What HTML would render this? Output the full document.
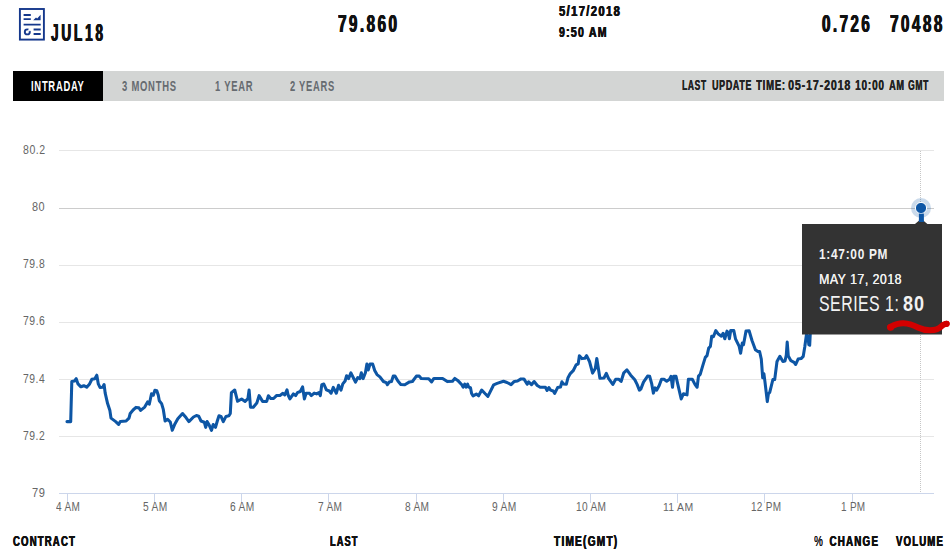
<!DOCTYPE html>
<html><head><meta charset="utf-8"><title>JUL18</title>
<style>
html,body{margin:0;padding:0;background:#fff;}
body{width:952px;height:560px;position:relative;overflow:hidden;font-family:"Liberation Sans",sans-serif;}
.t{position:absolute;white-space:pre;line-height:1;transform-origin:0 0;font-family:"Liberation Sans",sans-serif;}
.bar{position:absolute;left:13px;top:71px;width:931px;height:29.5px;background:#d3d5d4;}
.tab{position:absolute;left:13px;top:71px;width:90px;height:29.5px;background:#000;}
svg{position:absolute;left:0;top:0;}
</style></head><body>
<div class="bar"></div><div class="tab"></div>
<svg width="952" height="560" viewBox="0 0 952 560">
<!-- icon -->
<g fill="none" stroke="#15388c">
<rect x="19.9" y="9" width="24" height="30.6" stroke-width="1.9"/>
<path d="M23.6 15H30.8 M23.6 19.2H30.8 M23.6 24.7H40.7 M33.6 29.5H40.7 M33.6 34H40.7" stroke-width="1.8"/>
<circle cx="27.3" cy="31.9" r="2.5" stroke-width="1.9"/>
</g>
<path d="M33.2 20.2L36 17.6L37.2 18.6L40.6 14.8V20.2Z" fill="#15388c"/>
<path d="M27.9 31.2L29.6 27.8L31.6 30.2Z" fill="#fff" stroke="#fff" stroke-width="0.6"/>
<!-- grid -->
<path d="M59 150.5H934" stroke="#e6e6e6" stroke-width="1"/><path d="M59 265.5H934" stroke="#e6e6e6" stroke-width="1"/><path d="M59 322.5H934" stroke="#e6e6e6" stroke-width="1"/><path d="M59 379.5H934" stroke="#e6e6e6" stroke-width="1"/><path d="M59 436.5H934" stroke="#e6e6e6" stroke-width="1"/>
<path d="M59 208.5H934" stroke="#cccccc" stroke-width="1"/>
<path d="M59 493.5H934" stroke="#ccd6eb" stroke-width="1"/>
<path d="M67.5 493.5V503" stroke="#ccd6eb" stroke-width="1"/><path d="M154.5 493.5V503" stroke="#ccd6eb" stroke-width="1"/><path d="M241.5 493.5V503" stroke="#ccd6eb" stroke-width="1"/><path d="M328.5 493.5V503" stroke="#ccd6eb" stroke-width="1"/><path d="M416.5 493.5V503" stroke="#ccd6eb" stroke-width="1"/><path d="M503.5 493.5V503" stroke="#ccd6eb" stroke-width="1"/><path d="M590.5 493.5V503" stroke="#ccd6eb" stroke-width="1"/><path d="M677.5 493.5V503" stroke="#ccd6eb" stroke-width="1"/><path d="M764.5 493.5V503" stroke="#ccd6eb" stroke-width="1"/><path d="M852.5 493.5V503" stroke="#ccd6eb" stroke-width="1"/>
<path d="M920.5 151V493" stroke="#c6c6c6" stroke-width="1" stroke-dasharray="1 1" shape-rendering="crispEdges"/>
<!-- series -->
<path d="M66.96,421.6 L70.7,421.6 L71.8,381.6 L74.5,381 L76.2,378.7 L78,383.9 L80.9,386.8 L83.8,385.7 L86.7,387.2 L89.6,383.9 L91.9,379.3 L94.8,378.7 L96.8,375.2 L98.3,383.9 L100,387.4 L102.7,387.2 L104.1,384.5 L105.2,393.2 L107.6,403.6 L109.9,410.6 L111,418.1 L115.7,421.6 L118.6,424.5 L120.3,421.6 L126.1,421 L129,418.1 L130.2,413.5 L133.1,410 L136,407.4 L138.9,407.7 L140.6,410.4 L144.7,407.1 L147.6,401.9 L149.3,404.2 L151.5,393.8 L153.3,395.2 L154.9,390.3 L156.8,390.7 L158.3,395.2 L159.3,400.7 L161.6,403.6 L163.3,409.4 L165.1,421 L167.6,419.3 L170.3,422 L172.3,430.3 L174.9,423.9 L177.8,418.7 L182.5,413.5 L186,417.6 L188.9,421.6 L193.5,417 L196.4,415.5 L198.7,416.2 L201,421 L204.3,422.2 L205.7,427.4 L207.1,421.6 L209.2,425.1 L211.5,430.3 L213.2,424.5 L215.5,427.4 L217.3,421 L219,415.8 L221,416.4 L223.3,421.6 L226,416.4 L228.9,415.8 L230.3,413.5 L231.4,392.6 L234.7,390 L237.6,401.3 L241.6,399 L245.1,401.5 L247.9,398.7 L249.1,390 L250.5,407.2 L253.3,407.2 L256.8,403.1 L259.1,395.6 L262.6,401.4 L266.7,401.4 L268.4,395.8 L270.7,398.5 L273.6,398.5 L276.5,395.6 L280,395.4 L282.9,393.3 L284.7,395 L287,389.8 L288.1,395 L289.9,398.9 L293.4,393.9 L295.7,395.6 L297.4,392.7 L300.3,391.5 L302.6,386.9 L304.4,398.9 L306.1,393.3 L309.6,393.3 L311.3,395.6 L314.2,393.1 L316.6,393.9 L318.9,392.7 L320.3,395.6 L321.8,384.6 L323.8,384 L326.4,389.8 L329.3,391 L331.1,393.2 L333.3,387.4 L336.3,393.2 L338.6,385.3 L341,390.2 L342.8,383.9 L345.1,381 L346.6,375.7 L348.6,378.6 L350.9,372.8 L353.2,377.5 L355.5,382.1 L357.8,377.5 L359.9,378.6 L361.3,372.8 L363.1,378.6 L365.4,372.8 L366.9,364.1 L368.3,369.9 L370,364.1 L372.7,364.1 L374.7,370.5 L377,374.6 L379.9,376.9 L383.4,381.5 L386.3,382.7 L387.4,384.7 L389.2,382.1 L391.5,381.5 L393.2,376.1 L395,376.1 L397.9,381 L400.8,384.4 L404.8,384.7 L409.5,381.9 L412.4,381.5 L416.4,376.1 L419.3,376.1 L421.2,378.5 L428.7,378.8 L431.6,381.9 L433.9,378.4 L442.6,378.4 L447.3,381.6 L452.5,381.3 L454.8,378.4 L457.7,380.4 L461.8,384.8 L463.2,387.1 L464.7,384.2 L466.1,387.1 L467.6,384.2 L468.7,387.1 L470.5,387.7 L471.6,393.5 L473.1,395.8 L476.3,394.1 L478.6,395.8 L481.7,390 L485,393.5 L487.9,396.4 L493.7,384.8 L497.1,383.4 L503.5,381.3 L507,382.5 L511.1,384.6 L514.3,381.4 L517.5,381 L521,378.9 L523.9,378.9 L527.2,384.3 L528.6,381.8 L531.5,384.7 L534.1,381.5 L537.3,385.5 L540.2,387.3 L545.4,387.3 L547.1,390.5 L548.9,387.6 L550.6,390.1 L553.2,391 L554.7,393.4 L557.6,387.6 L560.5,387 L561.9,381.8 L563.6,384.1 L566.3,384.3 L568,377.7 L570.3,373.6 L573.2,370.7 L576.1,364.9 L578.2,363.8 L579.4,355.7 L581.9,358.6 L584.8,358.3 L586.6,355.7 L589.5,361.5 L592.6,373.1 L595.3,368.4 L596.8,358.6 L599.9,378.3 L604,378 L606.3,373.3 L608.5,378.3 L612.8,384.4 L615.7,379.2 L618.6,379.2 L621.1,381.5 L623.8,372.8 L626.9,369.9 L630.7,375.2 L634.8,379.8 L637.1,384.4 L639.4,390.2 L640.8,389.1 L643.5,382.1 L647.6,376.1 L649.7,376.3 L651.6,383.3 L653.4,393.1 L655.1,387.9 L656.6,390.2 L659.2,385.6 L661.5,379.2 L664,379.2 L666.7,381.2 L669.6,379.2 L671,376.3 L672.5,387.3 L673.7,376.3 L676,376.3 L677.7,383.9 L681.2,398.9 L683.5,393.7 L687,394.9 L688.4,379.2 L692.3,379.2 L695.1,384.6 L697.1,387.2 L698.5,376.1 L700.2,374.4 L702.7,365.9 L705.3,357.4 L707,355.7 L708.7,348.1 L710.4,346.4 L711.7,336.2 L713.4,336.7 L715.8,330.6 L718,333.7 L721.4,336.2 L723.1,333.3 L724.8,338.8 L727,331.1 L728.2,332.8 L729.4,338.8 L730.7,330.6 L733.8,330.6 L735.5,338.8 L739.2,346.4 L740.6,353.2 L742.3,343 L743.5,344.7 L746,331.1 L749.1,330.8 L752,340.5 L755.4,349.8 L757.9,351.5 L759.6,351.5 L761.3,359.1 L762.7,377.8 L763.9,373.6 L765,382.1 L767.3,401.6 L768.4,393.9 L769.8,392.2 L772.9,379.5 L774.7,379.6 L777,361.5 L779.9,356.3 L782.9,361.5 L785,361 L786.3,355.2 L787.2,342.1 L788.3,356 L790.9,360.7 L794.1,362.3 L795.7,364.5 L798.1,359.1 L801.1,358.6 L803.2,356.4 L804.8,346.8 L806.4,335 L808,336.1 L808.8,344.7 L809.7,345.2 L810.3,333 L815,325 L900,300 L919,260 L920.9,208.3" fill="none" stroke="#0d56a5" stroke-width="3.05" stroke-linejoin="round" stroke-linecap="round"/>
<circle cx="921" cy="208" r="10" fill="#0d56a5" fill-opacity="0.22"/>
<circle cx="921" cy="208" r="5.6" fill="#0d56a5" stroke="#ffffff" stroke-width="1"/>
<!-- tooltip -->
<path d="M802 224H915L921.2 218.8L927.4 224H942V334.5H802Z" fill="#333333"/>
<path d="M921.4 213.6V222" stroke="#0d56a5" stroke-width="5"/>
<!-- red scribble -->
<path d="M890.2 327.1C894 325 899 323.2 903.4 323.3C909 323.5 914 325.5 918 327.5C922 329.5 926 330.3 930 330.3C935 330.3 939 329.2 941.5 326.3C943 324.6 945 323.7 946.6 323.7" fill="none" stroke="#d30000" stroke-width="6" stroke-linecap="round" stroke-linejoin="round"/>
<circle cx="890.6" cy="327.2" r="3.5" fill="#d30000"/><circle cx="946.6" cy="323.8" r="3.1" fill="#d30000"/>
</svg>
<span class="t" style="left:50.62px;top:20.80px;font-size:24.35px;font-weight:700;color:#111111;letter-spacing:0.2em;transform:scaleX(0.5617);text-shadow:0.6px 0 0 currentColor,-0.6px 0 0 currentColor;">JUL18</span>
<span class="t" style="left:337.68px;top:12.62px;font-size:23.62px;font-weight:700;color:#111111;letter-spacing:0.16em;transform:scaleX(0.6475);text-shadow:0.6px 0 0 currentColor,-0.6px 0 0 currentColor;">79.860</span>
<span class="t" style="left:558.56px;top:2.87px;font-size:15.22px;font-weight:700;color:#111111;letter-spacing:0.12em;transform:scaleX(0.7394);text-shadow:0.4px 0 0 currentColor,-0.4px 0 0 currentColor;">5/17/2018</span>
<span class="t" style="left:558.87px;top:23.82px;font-size:15.51px;font-weight:700;color:#111111;letter-spacing:0.12em;transform:scaleX(0.6784);text-shadow:0.4px 0 0 currentColor,-0.4px 0 0 currentColor;">9:50 AM</span>
<span class="t" style="left:821.68px;top:12.84px;font-size:23.48px;font-weight:700;color:#111111;letter-spacing:0.16em;transform:scaleX(0.6476);text-shadow:0.6px 0 0 currentColor,-0.6px 0 0 currentColor;">0.726</span>
<span class="t" style="left:889.68px;top:12.84px;font-size:23.48px;font-weight:700;color:#111111;letter-spacing:0.16em;transform:scaleX(0.6521);text-shadow:0.6px 0 0 currentColor,-0.6px 0 0 currentColor;">70488</span>
<span class="t" style="left:30.85px;top:78.70px;font-size:14.35px;font-weight:700;color:#ffffff;letter-spacing:0.08em;transform:scaleX(0.6540);">INTRADAY</span>
<span class="t" style="left:121.71px;top:78.70px;font-size:14.35px;font-weight:700;color:#666b70;letter-spacing:0.08em;transform:scaleX(0.6580);">3 MONTHS</span>
<span class="t" style="left:214.74px;top:78.70px;font-size:14.35px;font-weight:700;color:#666b70;letter-spacing:0.08em;transform:scaleX(0.6559);">1 YEAR</span>
<span class="t" style="left:289.62px;top:78.70px;font-size:14.35px;font-weight:700;color:#666b70;letter-spacing:0.08em;transform:scaleX(0.6515);">2 YEARS</span>
<span class="t" style="left:681.70px;top:77.61px;font-size:14.93px;font-weight:700;color:#222222;letter-spacing:0.08em;transform:scaleX(0.5647);text-shadow:0.3px 0 0 currentColor;">LAST</span>
<span class="t" style="left:711.86px;top:77.61px;font-size:14.93px;font-weight:700;color:#222222;letter-spacing:0.08em;transform:scaleX(0.5934);text-shadow:0.3px 0 0 currentColor;">UPDATE</span>
<span class="t" style="left:755.60px;top:77.61px;font-size:14.93px;font-weight:700;color:#222222;letter-spacing:0.08em;transform:scaleX(0.6386);text-shadow:0.3px 0 0 currentColor;">TIME:</span>
<span class="t" style="left:787.87px;top:77.61px;font-size:14.93px;font-weight:700;color:#222222;letter-spacing:0.08em;transform:scaleX(0.7155);text-shadow:0.3px 0 0 currentColor;">05-17-2018</span>
<span class="t" style="left:854.59px;top:77.61px;font-size:14.93px;font-weight:700;color:#222222;letter-spacing:0.08em;transform:scaleX(0.6747);text-shadow:0.3px 0 0 currentColor;">10:00</span>
<span class="t" style="left:888.62px;top:77.61px;font-size:14.93px;font-weight:700;color:#222222;letter-spacing:0.08em;transform:scaleX(0.6148);text-shadow:0.3px 0 0 currentColor;">AM</span>
<span class="t" style="left:907.85px;top:77.61px;font-size:14.93px;font-weight:700;color:#222222;letter-spacing:0.08em;transform:scaleX(0.5670);text-shadow:0.3px 0 0 currentColor;">GMT</span>
<span class="t" style="left:12.81px;top:532.72px;font-size:15.51px;font-weight:700;color:#111111;letter-spacing:0.12em;transform:scaleX(0.6182);text-shadow:0.4px 0 0 currentColor,-0.4px 0 0 currentColor;">CONTRACT</span>
<span class="t" style="left:329.83px;top:532.72px;font-size:15.51px;font-weight:700;color:#111111;letter-spacing:0.12em;transform:scaleX(0.5962);text-shadow:0.4px 0 0 currentColor,-0.4px 0 0 currentColor;">LAST</span>
<span class="t" style="left:553.80px;top:532.72px;font-size:15.51px;font-weight:700;color:#111111;letter-spacing:0.12em;transform:scaleX(0.6535);text-shadow:0.4px 0 0 currentColor,-0.4px 0 0 currentColor;">TIME(GMT)</span>
<span class="t" style="left:813.80px;top:532.72px;font-size:15.51px;font-weight:700;color:#111111;letter-spacing:0.12em;transform:scaleX(0.6328);text-shadow:0.4px 0 0 currentColor,-0.4px 0 0 currentColor;"><span style="font-weight:400;text-shadow:0.3px 0 0 currentColor;letter-spacing:0.3em">%</span> CHANGE</span>
<span class="t" style="left:895.80px;top:532.72px;font-size:15.51px;font-weight:700;color:#111111;letter-spacing:0.12em;transform:scaleX(0.6209);text-shadow:0.4px 0 0 currentColor,-0.4px 0 0 currentColor;">VOLUME</span>
<span class="t" style="left:818.69px;top:245.54px;font-size:15.36px;font-weight:700;color:#f2f2f2;letter-spacing:0.06em;transform:scaleX(0.7738);">1:47:00 PM</span>
<span class="t" style="left:818.81px;top:270.59px;font-size:15.07px;font-weight:400;color:#f2f2f2;letter-spacing:0.04em;transform:scaleX(0.8182);text-shadow:0.3px 0 0 currentColor;">MAY 17, 2018</span>
<span class="t" style="left:818.61px;top:292.65px;font-size:22.17px;font-weight:400;color:#f2f2f2;letter-spacing:0.03em;transform:scaleX(0.7179);">SERIES 1:</span>
<span class="t" style="left:902.76px;top:292.65px;font-size:22.17px;font-weight:700;color:#f2f2f2;letter-spacing:0.05em;transform:scaleX(0.8144);">80</span>
<span class="t" style="left:22.59px;top:142.51px;font-size:13.69px;font-weight:400;color:#666666;letter-spacing:0.05em;transform:scaleX(0.7686);">80.2</span>
<span class="t" style="left:31.77px;top:199.66px;font-size:13.04px;font-weight:400;color:#666666;letter-spacing:0.05em;transform:scaleX(0.8370);">80</span>
<span class="t" style="left:22.88px;top:256.81px;font-size:13.04px;font-weight:400;color:#666666;letter-spacing:0.05em;transform:scaleX(0.7969);">79.8</span>
<span class="t" style="left:22.88px;top:313.56px;font-size:13.04px;font-weight:400;color:#666666;letter-spacing:0.05em;transform:scaleX(0.7994);">79.6</span>
<span class="t" style="left:22.89px;top:371.51px;font-size:13.04px;font-weight:400;color:#666666;letter-spacing:0.05em;transform:scaleX(0.7926);">79.4</span>
<span class="t" style="left:22.88px;top:428.66px;font-size:13.04px;font-weight:400;color:#666666;letter-spacing:0.05em;transform:scaleX(0.7936);">79.2</span>
<span class="t" style="left:31.65px;top:485.81px;font-size:13.52px;font-weight:400;color:#666666;letter-spacing:0.05em;transform:scaleX(0.8202);">79</span>
<span class="t" style="left:55.75px;top:501.82px;font-size:11.96px;font-weight:400;color:#666666;letter-spacing:0.03em;transform:scaleX(0.8383);">4 AM</span>
<span class="t" style="left:142.75px;top:500.62px;font-size:12.57px;font-weight:400;color:#666666;letter-spacing:0.03em;transform:scaleX(0.8120);">5 AM</span>
<span class="t" style="left:229.84px;top:500.62px;font-size:12.57px;font-weight:400;color:#666666;letter-spacing:0.03em;transform:scaleX(0.8102);">6 AM</span>
<span class="t" style="left:317.84px;top:500.62px;font-size:12.57px;font-weight:400;color:#666666;letter-spacing:0.03em;transform:scaleX(0.8063);">7 AM</span>
<span class="t" style="left:404.75px;top:500.62px;font-size:12.57px;font-weight:400;color:#666666;letter-spacing:0.03em;transform:scaleX(0.8080);">8 AM</span>
<span class="t" style="left:491.84px;top:500.62px;font-size:12.57px;font-weight:400;color:#666666;letter-spacing:0.03em;transform:scaleX(0.8140);">9 AM</span>
<span class="t" style="left:575.89px;top:500.62px;font-size:12.57px;font-weight:400;color:#666666;letter-spacing:0.03em;transform:scaleX(0.8068);">10 AM</span>
<span class="t" style="left:662.66px;top:500.62px;font-size:11.74px;font-weight:400;color:#666666;letter-spacing:0.03em;transform:scaleX(0.8905);">11 AM</span>
<span class="t" style="left:750.70px;top:500.62px;font-size:12.63px;font-weight:400;color:#666666;letter-spacing:0.03em;transform:scaleX(0.7915);">12 PM</span>
<span class="t" style="left:840.75px;top:501.82px;font-size:11.88px;font-weight:400;color:#666666;letter-spacing:0.03em;transform:scaleX(0.8380);">1 PM</span>
</body></html>
